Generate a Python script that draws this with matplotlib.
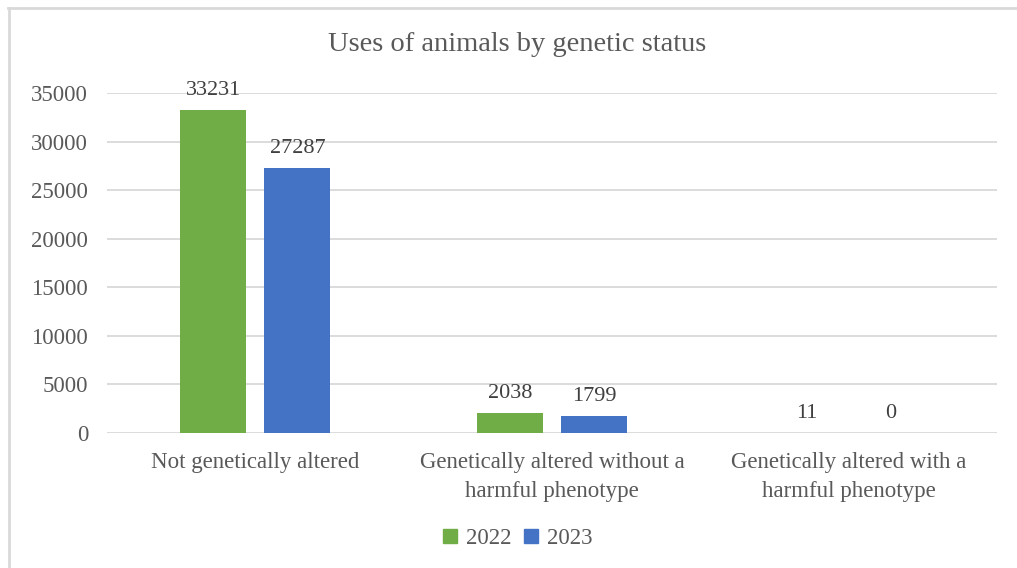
import matplotlib
matplotlib.use("Agg")
import matplotlib.pyplot as plt
import numpy as np
from matplotlib.lines import Line2D

categories = ["Not genetically altered",
              "Genetically altered without a\nharmful phenotype",
              "Genetically altered with a\nharmful phenotype"]
series_names = ["2022", "2023"]
values_2022 = [33231, 2038, 11]
values_2023 = [27287, 1799, 0]
y_ticks = [0, 5000, 10000, 15000, 20000, 25000, 30000, 35000]

colors = ["#70AD47", "#4472C4"]
text_color = "#595959"
grid_color = "#D9D9D9"

plt.rcParams["font.family"] = ["Liberation Serif", "DejaVu Serif"]

fig = plt.figure(figsize=(10.17, 5.68), dpi=100)
ax = fig.add_axes([0.1052, 0.2377, 0.8751, 0.5986])

x = np.arange(len(categories))
bar_w = 0.2225
offset = 0.1416
for vals, off, col, name in zip([values_2022, values_2023], [-offset, offset], colors, series_names):
    bars = ax.bar(x + off, vals, width=bar_w, color=col, label=name, zorder=3)
    for b, v in zip(bars, vals):
        ax.annotate(f"{v}", (b.get_x() + b.get_width() / 2, v),
                    xytext=(0, 7), textcoords="offset points",
                    ha="center", va="bottom", fontsize=16, color="#404040")

ax.set_xlim(-0.5, len(categories) - 0.5)
ax.set_ylim(0, 35000)
ax.set_yticks(y_ticks)
ax.set_yticklabels([str(t) for t in y_ticks])
ax.set_xticks(x)
ax.set_xticklabels(categories, linespacing=1.45)
ax.tick_params(axis="both", length=0, colors=text_color)
ax.tick_params(axis="y", pad=13.5, labelsize=16.5)
ax.tick_params(axis="x", pad=14, labelsize=16.5)
ax.yaxis.grid(True, color=grid_color, linewidth=1.3, zorder=0)
for s in ax.spines.values():
    s.set_visible(False)

fig.text(0.508, 0.921, "Uses of animals by genetic status", fontsize=20.5,
         color=text_color, ha="center", va="center")

handles = [Line2D([0], [0], marker="s", linestyle="none", markersize=10,
                  markerfacecolor=c, markeredgecolor=c) for c in colors]
fig.legend(handles, series_names, loc="center", bbox_to_anchor=(0.508, 0.052),
           ncol=2, frameon=False, fontsize=16.5, labelcolor=text_color,
           handlelength=0.8, handletextpad=0.3, columnspacing=0.45)

# chart area outline (left and top edges)
fig.add_artist(Line2D([0.0088, 0.0088], [0.0, 0.986], transform=fig.transFigure,
                      color="#D9D9D9", linewidth=2))
fig.add_artist(Line2D([0.0078, 1.0], [0.986, 0.986], transform=fig.transFigure,
                      color="#D9D9D9", linewidth=2))

fig.savefig("out.png", dpi=100, facecolor="white")
